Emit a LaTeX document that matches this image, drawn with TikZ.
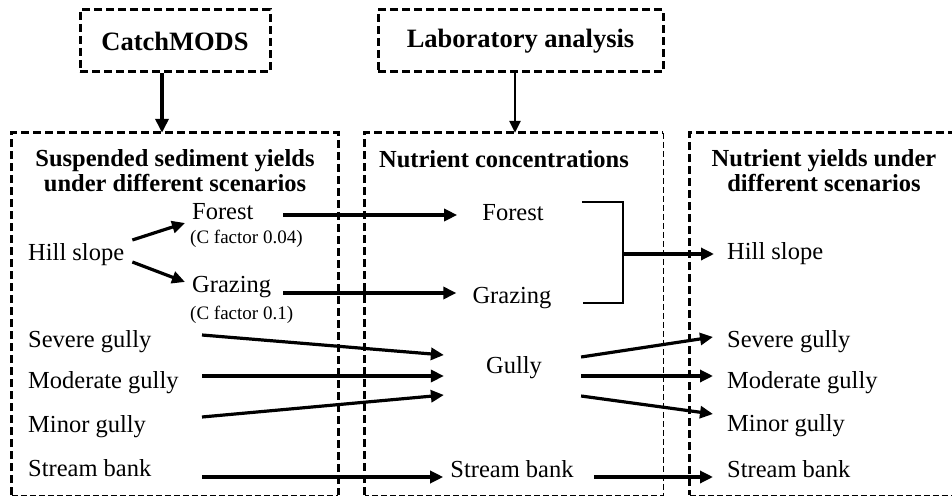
\documentclass[tikz,border=0pt]{standalone}
\usepackage{fontspec}
\setmainfont{Liberation Serif}
\usetikzlibrary{arrows.meta,calc}
\begin{document}
\begin{tikzpicture}[x=1pt,y=-1pt,
 txt/.style={inner sep=0pt, font=\fontsize{24.5}{26}\selectfont},
 hd/.style={inner sep=0pt, align=center, font=\fontsize{24.5}{25}\selectfont\bfseries},
 sm/.style={inner sep=0pt, font=\fontsize{19}{21}\selectfont},
 arr/.style={line width=3.2pt, -{Triangle[length=13pt,width=12pt]}},
 tarr/.style={line width=2.4pt, -{Triangle[length=12pt,width=11pt]}},
 box/.style={line width=3pt, dash pattern=on 8pt off 4pt},
 thinbox/.style={line width=1.3pt, dash pattern=on 6pt off 3pt},
 area/.style={inner sep=0pt, minimum height=362pt},
]
\useasboundingbox (0,0) rectangle (952,497);

% top boxes
\node[box, draw, minimum width=190pt, minimum height=62pt, font=\fontsize{26.5}{27}\selectfont\bfseries] (cm) at (175,41) {CatchMODS};
\node[box, draw, minimum width=285pt, minimum height=62pt, font=\fontsize{26.5}{27}\selectfont\bfseries] (lab) at (520.5,41) {Laboratory analysis};

% big areas
\node[area, minimum width=326pt] (boxL) at (175,314) {};
\node[area, minimum width=298pt] (boxM) at (514,314) {};
\node[area, minimum width=266pt] (boxR) at (823,314) {};
\draw[box] (boxL.south west) -- (boxL.north west) -- (boxL.north east) -- (boxL.south east);
\draw[thinbox] (boxL.south west) -- (boxL.south east);
\draw[box] (boxM.south west) -- (boxM.north west) -- (boxM.north east);
\draw[thinbox] (boxM.north east) -- (boxM.south east) -- (boxM.south west);
\draw[box] (boxR.north east) -- (boxR.north west) -- (boxR.south west);
\draw[thinbox] (boxR.south west) -- (boxR.south east);

\draw[line width=4pt, -{Triangle[length=14pt,width=13pt]}] ([xshift=-13pt]cm.south) -- ([xshift=-13pt]cm.south |- boxL.north);
\draw[tarr] ([xshift=-5.5pt]lab.south) -- ([xshift=-5.5pt]lab.south |- boxM.north);

% headings
\node[hd] (hL) at (175,171) {Suspended sediment yields\\under different scenarios};
\node[hd] (hM) at (504,159) {Nutrient concentrations};
\node[hd] (hR) at (824,171) {Nutrient yields under\\different scenarios};

% left column
\node[txt, anchor=west] (hillL) at (28,255) {Hill slope};
\node[txt, anchor=west] (forestL) at (192,212) {Forest};
\node[sm, anchor=west] (cf1) at (190,239) {(C factor 0.04)};
\node[txt, anchor=west] (grazL) at (192,287) {Grazing};
\node[sm, anchor=west] (cf2) at (190,315) {(C factor 0.1)};
\node[txt, anchor=west] (sevL) at (28,342) {Severe gully};
\node[txt, anchor=west] (modL) at (28,383) {Moderate gully};
\node[txt, anchor=west] (minL) at (28,427) {Minor gully};
\node[txt, anchor=west] (strL) at (28,468) {Stream bank};

% middle column
\node[txt] (forestM) at (513,213) {Forest};
\node[txt] (grazM) at (512,298) {Grazing};
\node[txt] (gullyM) at (514,368) {Gully};
\node[txt] (strM) at (512,469) {Stream bank};

% right column
\node[txt, anchor=west] (hillR) at (727,254) {Hill slope};
\node[txt, anchor=west] (sevR) at (727,342) {Severe gully};
\node[txt, anchor=west] (modR) at (727,383) {Moderate gully};
\node[txt, anchor=west] (minR) at (727,426) {Minor gully};
\node[txt, anchor=west] (strR) at (727,469) {Stream bank};

% hill slope split
\draw[arr] ($(hillL.east)+(8,-15)$) -- ($(forestL.west)+(-7,11)$);
\draw[arr] ($(hillL.east)+(8,7)$) -- ($(grazL.west)+(-7,-5)$);

% left to middle
\draw[arr] ($(forestL.west)+(91,3)$) -- ($(forestM.west)+(-25,2)$);
\draw[arr] ($(grazL.west)+(91,6)$) -- ($(grazM.west)+(-16,-5)$);
\draw[arr] ($(sevL.east -| grazL.west)+(10,-7)$) -- ($(gullyM.west)+(-42,-13)$);
\draw[arr] ($(modL.east -| grazL.west)+(10,-7)$) -- ($(gullyM.west)+(-42,8)$);
\draw[arr] ($(minL.east -| grazL.west)+(10,-10)$) -- ($(gullyM.west)+(-42,27)$);
\draw[arr] ($(strL.east -| grazL.west)+(10,9)$) -- ($(strM.west)+(-7,8)$);

% bracket
\coordinate (bt) at ($(forestM.east)+(38,-11)$);
\coordinate (bb) at ($(grazM.east)+(31,5)$);
\coordinate (bx) at (623,0);
\draw[line width=2.2pt] (bt) -- (bt -| bx) -- (bx |- bb) -- (bb);
\coordinate (brk) at (bx |- hillR.west);
\draw[arr] (brk) -- ($(hillR.west)+(-13,0)$);

% middle to right
\draw[arr] ($(gullyM.east)+(39,-11)$) -- ($(sevR.west)+(-14,-5)$);
\draw[arr] ($(gullyM.east)+(39,8)$) -- ($(modR.west)+(-14,-7)$);
\draw[arr] ($(gullyM.east)+(39,28)$) -- ($(minR.west)+(-14,-12)$);
\draw[arr] ($(strM.east)+(20,8)$) -- ($(strR.west)+(-14,8)$);
\end{tikzpicture}
\end{document}
